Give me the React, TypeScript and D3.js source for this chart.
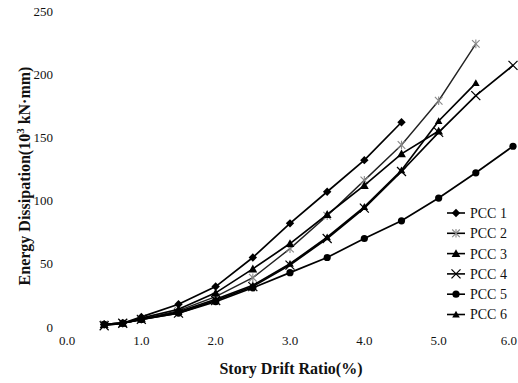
import React from "react";
import * as d3 from "d3";

const drift = [0.5, 0.75, 1.0, 1.5, 2.0, 2.5, 3.0, 3.5, 4.0, 4.5, 5.0, 5.5, 6.0];
const seriesNames = ["PCC 1", "PCC 2", "PCC 3", "PCC 4", "PCC 5", "PCC 6"];
const pcc1 = [2, 3, 8, 18, 32, 55, 82, 107, 132, 162];
const pcc2 = [2, 3, 6, 13, 24, 39, 62, 88, 116, 144, 179, 224];
const pcc3 = [2, 3, 7, 14, 27, 46, 66, 89, 112, 137, 155];
const pcc4 = [1, 3, 6, 11, 21, 32, 49, 70, 94, 123, 154, 183, 207];
const pcc5 = [2, 3, 6, 11, 20, 31, 43, 55, 70, 84, 102, 122, 143];
const pcc6 = [2, 3, 6, 12, 22, 33, 50, 71, 95, 124, 163, 193];
const xTicks = [0, 1, 2, 3, 4, 5, 6];
const yTicks = [0, 50, 100, 150, 200, 250];

const allSeries = [pcc1, pcc2, pcc3, pcc4, pcc5, pcc6];
const markers = ["diamond", "star", "triangle", "cross", "circle", "triangleSmall"];

const FONT = "'Liberation Serif', 'Times New Roman', serif";

function Marker({ type, x, y }: { type: string; x: number; y: number }) {
  if (type === "diamond") {
    const s = 4.2;
    return <path d={`M${x},${y - s}L${x + s},${y}L${x},${y + s}L${x - s},${y}Z`} fill="#000" />;
  }
  if (type === "circle") return <circle cx={x} cy={y} r={3.6} fill="#000" />;
  if (type === "triangle" || type === "triangleSmall") {
    const s = type === "triangle" ? 4.4 : 3.8;
    return <path d={`M${x},${y - s}L${x + s},${y + s * 0.8}L${x - s},${y + s * 0.8}Z`} fill="#000" />;
  }
  if (type === "cross") {
    const s = 4.5;
    return (
      <g stroke="#000" strokeWidth={1.2}>
        <line x1={x - s} y1={y - s} x2={x + s} y2={y + s} />
        <line x1={x - s} y1={y + s} x2={x + s} y2={y - s} />
      </g>
    );
  }
  const s = 3.8;
  return (
    <g stroke="#888" strokeWidth={1.1}>
      <line x1={x - s} y1={y - s} x2={x + s} y2={y + s} />
      <line x1={x - s} y1={y + s} x2={x + s} y2={y - s} />
      <line x1={x} y1={y - s - 0.5} x2={x} y2={y + s + 0.5} />
    </g>
  );
}

export default function App() {
  const W = 518;
  const H = 383;
  const x = d3.scaleLinear().domain([0, 6]).range([67, 513]);
  const y = d3.scaleLinear().domain([0, 250]).range([327, 11]);
  const line = d3
    .line<[number, number]>()
    .x((d) => x(d[0]))
    .y((d) => y(d[1]));

  const legendX = 447;
  const legendY0 = 213;
  const legendDy = 20.3;

  return (
    <svg
      width={W}
      height={H}
      style={{ position: "absolute", left: 0, top: 0, background: "#fff" }}
      fontFamily={FONT}
    >
      <rect width={W} height={H} fill="#fff" />
      {yTicks.map((t) => (
        <text key={t} x={53} y={y(t)} dy="0.35em" textAnchor="end" fontSize={13} fill="#111">
          {t}
        </text>
      ))}
      {xTicks.map((t, i) => {
        const last = i === xTicks.length - 1;
        return (
          <text
            key={t}
            x={last ? 517 : x(t)}
            y={345}
            textAnchor={last ? "end" : "middle"}
            fontSize={13}
            fill="#111"
          >
            {t.toFixed(1)}
          </text>
        );
      })}
      {allSeries.map((vals, i) => {
        const pts = vals.map((v, j) => [drift[j], v] as [number, number]);
        return (
          <g key={i}>
            <path
              d={line(pts) || ""}
              fill="none"
              stroke={i === 1 ? "#222" : "#000"}
              strokeWidth={i === 1 ? 1.4 : 1.7}
            />
            {pts.map((p, j) => (
              <Marker key={j} type={markers[i]} x={x(p[0])} y={y(p[1])} />
            ))}
          </g>
        );
      })}
      {seriesNames.map((n, i) => {
        const ly = legendY0 + i * legendDy;
        return (
          <g key={n}>
            <line x1={legendX} x2={legendX + 18} y1={ly} y2={ly} stroke="#000" strokeWidth={1.6} />
            <Marker type={markers[i]} x={legendX + 9} y={ly} />
            <text x={legendX + 23} y={ly} dy="0.35em" fontSize={14} fill="#111">
              {n}
            </text>
          </g>
        );
      })}
      <text x={291} y={374} textAnchor="middle" fontSize={16} fontWeight="bold" fill="#111">
        Story Drift Ratio(%)
      </text>
      <text
        transform="translate(30,176) rotate(-90)"
        textAnchor="middle"
        fontSize={16}
        fontWeight="bold"
        fill="#111"
      >
        Energy Dissipation(10
        <tspan dy={-6} fontSize={11}>3</tspan>
        <tspan dy={6}> kN·mm)</tspan>
      </text>
    </svg>
  );
}
